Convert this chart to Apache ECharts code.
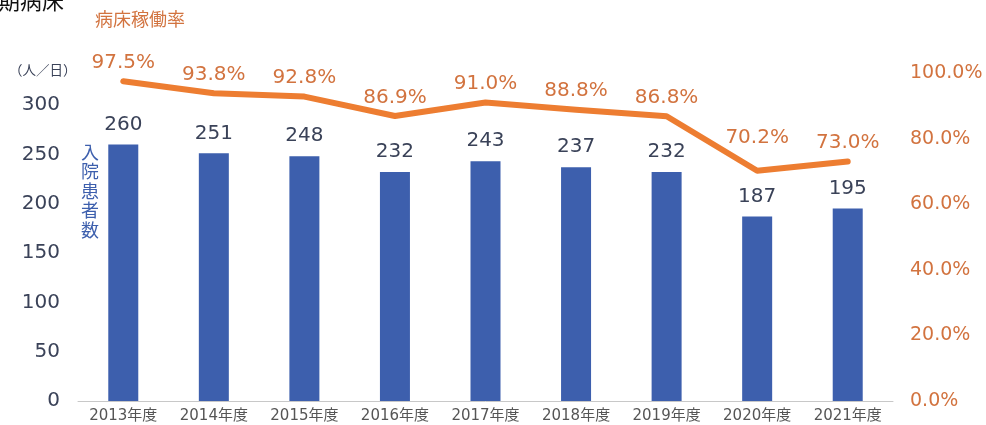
<!DOCTYPE html>
<html>
<head>
<meta charset="utf-8">
<script src="https://cdn.jsdelivr.net/npm/echarts@6/dist/echarts.min.js"></script>
<style>
  html, body { margin: 0; padding: 0; background: #fff; }
  #chart { width: 986px; height: 425px; }
</style>
</head>
<body>
<div id="chart"></div>
<script>
// 年度
var years = ['2013年度', '2014年度', '2015年度', '2016年度', '2017年度', '2018年度', '2019年度', '2020年度', '2021年度'];
// 入院患者数（人／日）
var patients = [260, 251, 248, 232, 243, 237, 232, 187, 195];
// 病床稼働率（%）
var bedRate = [97.5, 93.8, 92.8, 86.9, 91.0, 88.8, 86.8, 70.2, 73.0];

var FONT = '"Noto Sans CJK JP", "Noto Sans", sans-serif';
var NUM_FONT = '"DejaVu Sans", "Noto Sans CJK JP", sans-serif';
var BLUE = '#3d5fad';
var ORANGE = '#ed7d31';
var ORANGE_TXT = '#d2733f';
var DARK = '#3a4258';

var chart = echarts.init(document.getElementById('chart'));

var rateData = bedRate.map(function (v, i) {
  // 2020年度だけラベルを少し上げる
  if (i === 7) return { value: v, label: { distance: 22 } };
  return v;
});

chart.setOption({
  animation: false,
  textStyle: { fontFamily: FONT },
  grid: { left: 78, right: 93, top: 73, bottom: 24 },
  graphic: [
    { type: 'text', left: -2, top: -10, style: { text: '期病床', fontSize: 22, fill: '#111', fontFamily: FONT } },
    { type: 'text', left: 95, top: 10, style: { text: '病床稼働率', fontSize: 18, fill: ORANGE_TXT, fontFamily: FONT } },
    { type: 'text', left: 9, top: 63, style: { text: '（人／日）', fontSize: 13.5, fill: DARK, fontFamily: FONT } },
    { type: 'text', left: 81, top: 142, style: { text: '入\n院\n患\n者\n数', fontSize: 18, lineHeight: 19.5, fill: BLUE, fontFamily: FONT } }
  ],
  xAxis: {
    type: 'category',
    data: years,
    axisTick: { show: false },
    axisLine: { lineStyle: { color: '#c8c8c8', width: 1 } },
    axisLabel: { color: '#555', fontSize: 15, margin: 8, fontFamily: NUM_FONT }
  },
  yAxis: [
    {
      type: 'value',
      min: 0,
      max: 332.4,
      interval: 50,
      splitLine: { show: false },
      axisLine: { show: false },
      axisTick: { show: false },
      axisLabel: {
        color: DARK,
        fontSize: 20,
        margin: 18,
        fontFamily: NUM_FONT,
        formatter: function (v) { return v % 50 === 0 ? String(v) : ''; }
      }
    },
    {
      type: 'value',
      min: 0,
      max: 100,
      interval: 20,
      position: 'right',
      splitLine: { show: false },
      axisLine: { show: false },
      axisTick: { show: false },
      axisLabel: {
        color: ORANGE_TXT,
        fontSize: 19,
        margin: 17,
        fontFamily: NUM_FONT,
        formatter: function (v) { return v.toFixed(1) + '%'; }
      }
    }
  ],
  series: [
    {
      name: '入院患者数',
      type: 'bar',
      yAxisIndex: 0,
      barWidth: 30,
      itemStyle: { color: BLUE },
      label: {
        show: true,
        position: 'top',
        distance: 10,
        color: DARK,
        fontSize: 20,
        fontFamily: NUM_FONT
      },
      data: patients
    },
    {
      name: '病床稼働率',
      type: 'line',
      yAxisIndex: 1,
      showSymbol: true,
      symbol: 'circle',
      symbolSize: 1,
      lineStyle: { color: ORANGE, width: 6, cap: 'round', join: 'round' },
      itemStyle: { color: ORANGE },
      label: {
        show: true,
        position: 'top',
        distance: 8,
        color: ORANGE_TXT,
        fontSize: 20,
        fontFamily: NUM_FONT,
        formatter: function (p) { return p.value.toFixed(1) + '%'; }
      },
      z: 5,
      data: rateData
    }
  ]
});
</script>
</body>
</html>
